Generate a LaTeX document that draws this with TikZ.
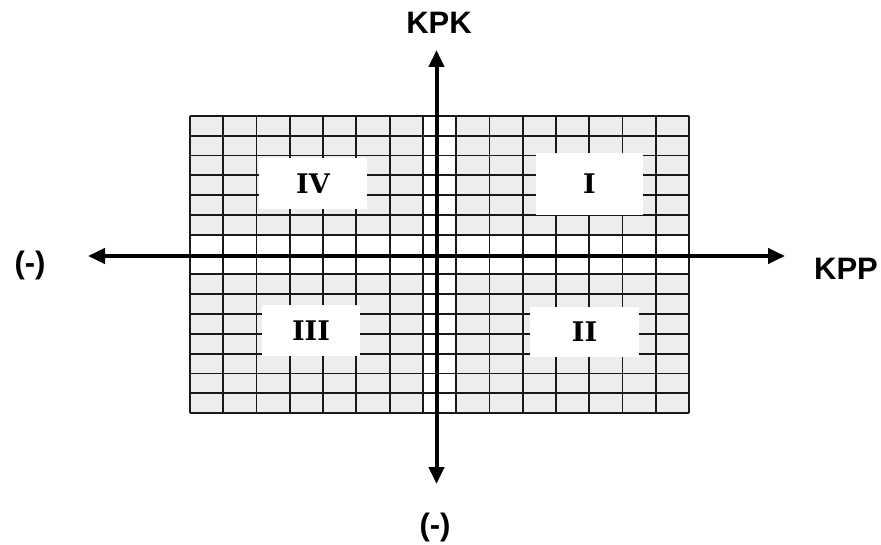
\documentclass[tikz,border=0pt]{standalone}
\usepackage{fontspec}
\setsansfont{Liberation Sans}
\newfontfamily\romfont{DejaVu Serif}
\usetikzlibrary{arrows.meta,positioning}
\tikzset{axis/.style={line width=4pt, {Triangle[length=17pt,width=15pt]}-{Triangle[length=17pt,width=15pt]}},
  gridln/.style={line width=1.8pt, black!90},
  quad/.style={fill=white, inner sep=0pt, font=\romfont\bfseries\fontsize{27}{27}\selectfont},
  lbl/.style={font=\sffamily\bfseries\fontsize{31}{31}\selectfont, inner sep=0pt}}

\begin{document}
\begin{tikzpicture}[x=1pt,y=-1pt]
  \useasboundingbox (0,0) rectangle (881,545);
  % grid background
  \fill[black!7] (190,116) rectangle (689,413);
  \fill[white] (190,234.8) rectangle (689,274.4);
  \fill[white] (422.9,116) rectangle (456.2,413);
  \foreach \i in {0,...,15}{
    \draw[gridln] (190+\i*33.27,116) -- (190+\i*33.27,413);
    \draw[gridln] (190,116+\i*19.8) -- (689,116+\i*19.8);}
  % quadrant boxes
  \node[quad, minimum width=108pt, minimum height=51pt] (q4) at (313,183.5) {IV};
  \node[quad, minimum width=107pt, minimum height=62pt] (q1) at (589.5,184) {I};
  \node[quad, minimum width=98pt, minimum height=51pt] (q3) at (311,330.5) {III};
  \node[quad, minimum width=109pt, minimum height=50pt] (q2) at (584.5,332) {II};
  % axes
  \coordinate (wtip) at (88,256);
  \coordinate (etip) at (785,256);
  \coordinate (ntip) at (436.5,50);
  \coordinate (stip) at (436.5,484);
  \draw[axis] (wtip) -- (etip);
  \draw[axis] (stip) -- (ntip);
  % axis labels
  \node[lbl] (kpk) at (439,23) {KPK};
  \node[lbl] (kpp) at (846,269) {KPP};
  \node[lbl] (negx) at (30,265) {(-)};
  \node[lbl] (negy) at (435,527) {(-)};
\end{tikzpicture}
\end{document}
